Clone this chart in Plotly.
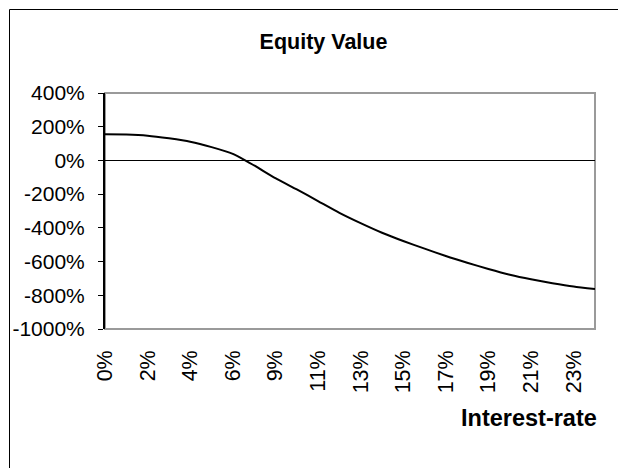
import plotly.graph_objects as go

# Interest rate (%) for each point of the category axis
rates = [0.0, 1.07, 2.13, 3.20, 4.26, 5.33, 6.39, 7.46, 8.52, 9.59, 10.65, 11.72,
         12.78, 13.85, 14.91, 15.98, 17.04, 18.11, 19.17, 20.24, 21.30, 22.37, 23.43, 24.50]
# Equity value (%)
equity = [155, 154, 147, 131, 111, 79, 39, -30, -105, -172, -241, -311,
          -372, -429, -478, -523, -567, -607, -644, -678, -705, -728, -748, -763]
# Category labels shown on the axis (every second category)
tick_rates = rates[::2]
tick_labels = ["0%", "2%", "4%", "6%", "9%", "11%", "13%", "15%", "17%", "19%", "21%", "23%"]
y_ticks = [400, 200, 0, -200, -400, -600, -800, -1000]

FONT = "Liberation Sans, Arial, sans-serif"
W, H = 618, 468
L, R, T, B = 105, 23, 93, 139
pw, ph = W - L - R, H - T - B

def px_x(x):
    return (x - L) / pw

def px_y(y):
    return (H - B - y) / ph

fig = go.Figure()
fig.add_trace(go.Scatter(x=rates, y=equity, mode="lines",
                         line=dict(color="black", width=2, shape="spline", smoothing=0.6),
                         hoverinfo="skip", showlegend=False))

fig.update_layout(
    width=W, height=H,
    margin=dict(l=L, r=R, t=T, b=B),
    paper_bgcolor="white", plot_bgcolor="white",
    font=dict(family=FONT, color="black", size=21),
    title=dict(text="<b>Equity Value</b>", x=323.5 / W, xanchor="center",
               y=1 - 41 / H, yanchor="middle", font=dict(size=21.5, family=FONT)),
    showlegend=False,
)
fig.update_xaxes(range=[rates[0], rates[-1]], tickmode="array", tickvals=tick_rates,
                 ticktext=tick_labels, tickangle=-90, ticks="", showgrid=False,
                 zeroline=False, showline=False, tickfont=dict(size=21.5),
                 ticklabelstandoff=16)
fig.update_yaxes(range=[-1000, 400], tickmode="array", tickvals=y_ticks,
                 ticktext=[f"{v}%" for v in y_ticks], ticks="outside", ticklen=5,
                 tickcolor="black", tickwidth=1, showgrid=False,
                 zeroline=True, zerolinecolor="black", zerolinewidth=1,
                 showline=True, linecolor="black", linewidth=2,
                 tickfont=dict(size=21), ticklabelstandoff=9)

# plot-area frame (gray)
fig.add_shape(type="rect", xref="paper", yref="paper", x0=0, y0=0, x1=1, y1=1,
              line=dict(color="#9a9a9a", width=2), layer="below")
# chart-area border (extends past the cropped image on right and bottom)
fig.add_shape(type="rect", xref="paper", yref="paper",
              x0=px_x(9.5), y0=px_y(H + 20), x1=px_x(W + 20), y1=px_y(9.5),
              line=dict(color="black", width=1), layer="below")
# axis title
fig.add_annotation(text="<b>Interest-rate</b>", xref="paper", yref="paper",
                   x=px_x(599), y=px_y(418), xanchor="right", yanchor="middle",
                   showarrow=False, font=dict(size=23.5, family=FONT))

fig.write_html("out.html", config={"displayModeBar": False},
               post_script="document.body.style.margin='0';document.body.style.overflow='hidden';")
